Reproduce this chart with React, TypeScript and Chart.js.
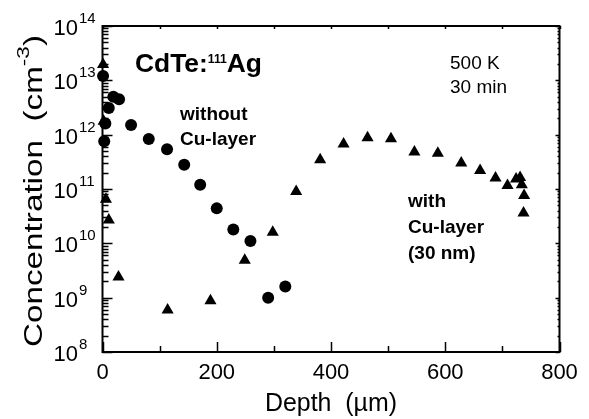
import React, { useEffect, useRef } from 'react';
import { Chart, registerables } from 'chart.js';

Chart.register(...registerables);

// ---- Data ----
const withoutCuDepth = [1, 3, 5, 11, 19, 29, 50, 81, 113, 143, 171, 200, 229, 259, 290, 320];
const withoutCuConc = [1.2e13, 7.6e11, 1.6e12, 3.1e12, 5.0e12, 4.5e12, 1.5e12, 8.3e11, 5.4e11, 2.8e11, 1.2e11, 4.4e10, 1.8e10, 1.1e10, 1.0e9, 1.6e9];

const withCuDepth = [1, 2, 6, 11, 28, 114, 189, 249, 298, 339, 381, 422, 464, 505, 546, 587, 628, 661, 688, 709, 724, 731, 734, 738, 737];
const withCuConc = [1.95e13, 1.77e12, 6.5e10, 2.7e10, 2.4e9, 5.9e8, 8.8e8, 4.9e9, 1.6e10, 9.0e10, 3.45e11, 6.7e11, 8.8e11, 8.4e11, 4.8e11, 4.55e11, 3.0e11, 2.2e11, 1.6e11, 1.16e11, 1.53e11, 1.63e11, 1.2e11, 7.6e10, 3.6e10];

const xMin = 0;
const xMax = 800;
const xMajorStep = 200;
const xMinorStep = 100;
const yMinExp = 8;
const yMaxExp = 14;
const yTickExponents = [8, 9, 10, 11, 12, 13, 14];

const FONT = '"Liberation Sans", Arial, Helvetica, sans-serif';

type Part = { text: string; sup?: boolean };

function measureParts(ctx: CanvasRenderingContext2D, parts: Part[], baseFont: string, supFont: string) {
  let total = 0;
  const widths = parts.map((p) => {
    ctx.font = p.sup ? supFont : baseFont;
    const w = ctx.measureText(p.text).width;
    total += w;
    return w;
  });
  return { total, widths };
}

// draws text with superscripts; if targetWidth is given, the text is scaled along its direction to fit it
function drawSuperText(
  ctx: CanvasRenderingContext2D,
  parts: Part[],
  x: number,
  y: number,
  baseFont: string,
  supFont: string,
  raise: number,
  align: 'left' | 'center' | 'right',
  targetWidth?: number
) {
  ctx.save();
  ctx.textBaseline = 'alphabetic';
  ctx.textAlign = 'left';
  const { total, widths } = measureParts(ctx, parts, baseFont, supFont);
  const k = targetWidth ? targetWidth / total : 1;
  const drawnW = total * k;
  const startX = align === 'left' ? x : align === 'center' ? x - drawnW / 2 : x - drawnW;
  ctx.translate(startX, y);
  ctx.scale(k, 1);
  let cx = 0;
  parts.forEach((p, i) => {
    ctx.font = p.sup ? supFont : baseFont;
    ctx.fillText(p.text, cx, p.sup ? -raise : 0);
    cx += widths[i];
  });
  ctx.restore();
}

const framePlugin = {
  id: 'framePlugin',
  beforeDatasetsDraw(chart: any) {
    const { ctx, chartArea, scales } = chart;
    const { left, right, top, bottom } = chartArea;
    const xs = scales.x;
    const ys = scales.y;
    ctx.save();
    ctx.strokeStyle = '#000';
    ctx.lineWidth = 2;
    ctx.beginPath();
    ctx.rect(left, top, right - left, bottom - top);
    ctx.stroke();

    ctx.lineWidth = 1.5;
    ctx.beginPath();
    // y ticks (log)
    for (let e = yMinExp; e <= yMaxExp; e++) {
      for (let m = 1; m <= 9; m++) {
        const v = m * Math.pow(10, e);
        if (v > Math.pow(10, yMaxExp)) break;
        const py = Math.round(ys.getPixelForValue(v)) + 0.5;
        const lenL = m === 1 ? 10 : 6;
        const lenR = m === 1 ? 4 : 2;
        ctx.moveTo(left, py);
        ctx.lineTo(left + lenL, py);
        ctx.moveTo(right, py);
        ctx.lineTo(right - lenR, py);
      }
    }
    // x ticks
    for (let v = xMin; v <= xMax; v += xMinorStep) {
      const px = Math.round(xs.getPixelForValue(v)) + 0.5;
      const major = v % xMajorStep === 0;
      ctx.moveTo(px, bottom);
      ctx.lineTo(px, bottom - (major ? 10 : 6));
      ctx.moveTo(px, top);
      ctx.lineTo(px, top + 3);
    }
    ctx.stroke();

    ctx.fillStyle = '#000';
    // y tick labels with superscripts
    yTickExponents.forEach((e) => {
      const py = ys.getPixelForValue(Math.pow(10, e));
      ctx.font = `22px ${FONT}`;
      ctx.textAlign = 'right';
      ctx.textBaseline = 'alphabetic';
      ctx.fillText('10', 78, py + 9);
      ctx.font = `15px ${FONT}`;
      ctx.textAlign = 'left';
      ctx.fillText(String(e), 79, py - 3);
    });

    // y axis title (rotated, stretched along its length like the reference)
    ctx.save();
    ctx.translate(42, 191);
    ctx.rotate(-Math.PI / 2);
    drawSuperText(
      ctx,
      [{ text: 'Concentration  (cm' }, { text: '-3', sup: true }, { text: ')' }],
      0,
      0,
      `25px ${FONT}`,
      `17px ${FONT}`,
      13,
      'center',
      312
    );
    ctx.restore();

    // x axis title
    drawSuperText(ctx, [{ text: 'Depth  (\u00b5m)' }], (left + right) / 2, 411, `25px ${FONT}`, `25px ${FONT}`, 0, 'center', 132);

    // annotations
    drawSuperText(
      ctx,
      [{ text: 'CdTe:' }, { text: '111', sup: true }, { text: 'Ag' }],
      135,
      72,
      `bold 26px ${FONT}`,
      `bold 12px ${FONT}`,
      9,
      'left',
      127
    );
    ctx.font = `19px ${FONT}`;
    ctx.textAlign = 'left';
    ctx.textBaseline = 'alphabetic';
    ctx.fillText('500 K', 450, 69);
    ctx.fillText('30 min', 450, 93);

    ctx.font = `bold 19px ${FONT}`;
    ctx.fillText('without', 180, 120);
    ctx.fillText('Cu-layer', 180, 145);

    ctx.fillText('with', 408, 207);
    ctx.fillText('Cu-layer', 408, 233);
    ctx.fillText('(30 nm)', 408, 259);
    ctx.restore();
  },
};

export default function App() {
  const canvasRef = useRef<HTMLCanvasElement | null>(null);

  useEffect(() => {
    const canvas = canvasRef.current;
    if (!canvas) return;
    const chart = new Chart(canvas, {
      type: 'scatter',
      data: {
        datasets: [
          {
            label: 'without Cu-layer',
            data: withoutCuDepth.map((d, i) => ({ x: d, y: withoutCuConc[i] })),
            pointStyle: 'circle',
            pointRadius: 6,
            pointHoverRadius: 6,
            backgroundColor: '#000',
            borderColor: '#000',
            borderWidth: 0,
            clip: false,
          },
          {
            label: 'with Cu-layer (30 nm)',
            data: withCuDepth.map((d, i) => ({ x: d, y: withCuConc[i] })),
            pointStyle: 'triangle',
            pointRadius: 7,
            pointHoverRadius: 7,
            backgroundColor: '#000',
            borderColor: '#000',
            borderWidth: 0,
            clip: false,
          },
        ],
      },
      options: {
        animation: false,
        responsive: false,
        events: [],
        layout: { padding: { left: 0, right: 29.5, top: 26, bottom: 0 } },
        plugins: {
          legend: { display: false },
          tooltip: { enabled: false },
          title: { display: false },
        },
        scales: {
          x: {
            type: 'linear',
            min: xMin,
            max: xMax,
            grid: { display: false, drawTicks: false },
            border: { display: false },
            ticks: {
              stepSize: xMajorStep,
              color: '#000',
              padding: 8,
              font: { family: FONT, size: 22 },
            },
            afterFit: (s: any) => {
              s.height = 67;
            },
          },
          y: {
            type: 'logarithmic',
            min: Math.pow(10, yMinExp),
            max: Math.pow(10, yMaxExp),
            grid: { display: false, drawTicks: false },
            border: { display: false },
            ticks: { display: false },
            afterFit: (s: any) => {
              s.width = 102.5;
            },
          },
        },
      },
      plugins: [framePlugin],
    } as any);
    return () => chart.destroy();
  }, []);

  return (
    <div style={{ position: 'absolute', left: 0, top: 0, width: 589, height: 419, background: '#fff' }}>
      <canvas ref={canvasRef} width={589} height={419} style={{ display: 'block', width: 589, height: 419 }} />
    </div>
  );
}
